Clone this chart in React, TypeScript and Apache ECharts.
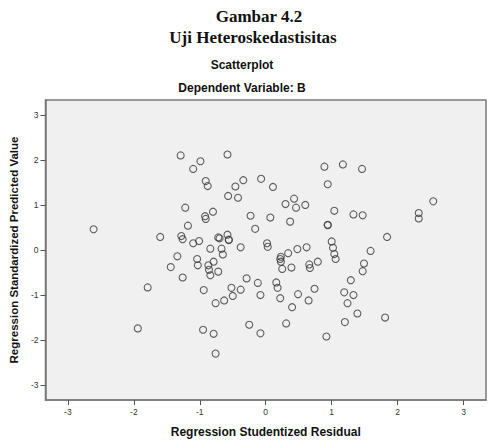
import React, { useEffect, useRef } from "react";
import * as echarts from "echarts";

const titleMain = "Gambar 4.2";
const titleSub = "Uji Heteroskedastisitas";
const chartTitle = "Scatterplot";
const chartSubtitle = "Dependent Variable: B";
const xAxisName = "Regression Studentized Residual";
const yAxisName = "Regression Standardized Predicted Value";
const tickValues = [-3, -2, -1, 0, 1, 2, 3];

// Regression Studentized Residual (x)
const residual = [
  -2.61, -1.6, -1.29, -0.99, -1.1, -0.58, -0.91, -0.88, -0.34, -0.46,
  -0.07, 0.11, -0.57, -0.42, 0.89, 0.94, -1.22, -0.8, -0.92, -0.91,
  -0.23, 0.07, 0.3, 0.43, 0.46, 0.6, 0.37, -1.18, -0.16, 0.94,
  0.94, -1.28, -1.26, -1.1, -1.01, -0.72, -0.7, -0.58, -0.56, -0.56,
  -0.84, -0.67, -0.38, 0.02, 0.03, 0.34, 0.48, 0.62, 0.23, 0.22,
  0.23, 1.0, 1.02, 1.04, 1.06, -1.34, -0.65, 1.17, 1.46, 2.54,
  1.04, 1.33, 1.47, 2.32, 2.32, 1.84, 1.59, -1.44, -1.26, -1.04,
  -1.03, -0.87, -0.79, -0.86, -0.84, -0.72, -0.94, -0.76, -0.63, -0.52,
  -0.5, -0.38, -0.29, -0.12, -0.08, -0.95, -0.79, -0.76, -0.25, -0.08,
  0.25, 0.39, 0.66, 0.67, 0.79, 0.16, 0.18, 0.22, 0.49, 0.4,
  0.65, 0.74, 0.31, 0.92, 1.49, 1.47, 1.29, 1.19, 1.33, 1.24,
  1.39, 1.2, 1.81, -1.79, -1.94,
];

// Regression Standardized Predicted Value (y)
const predicted = [
  0.46, 0.29, 2.1, 1.97, 1.8, 2.12, 1.53, 1.42, 1.55, 1.41,
  1.58, 1.4, 1.2, 1.16, 1.85, 1.46, 0.94, 0.85, 0.75, 0.69,
  0.76, 0.72, 1.02, 1.14, 0.94, 1.0, 0.63, 0.54, 0.47, 0.56,
  0.55, 0.31, 0.24, 0.15, 0.2, 0.28, 0.26, 0.34, 0.23, 0.22,
  0.03, 0.03, 0.06, 0.15, 0.07, -0.07, 0.02, 0.06, -0.15, -0.2,
  -0.26, 0.19, 0.05, -0.09, -0.2, -0.14, -0.1, 1.9, 1.8, 1.08,
  0.87, 0.79, 0.77, 0.82, 0.7, 0.29, -0.02, -0.38, -0.61, -0.2,
  -0.34, -0.34, -0.26, -0.44, -0.56, -0.48, -0.89, -1.18, -1.12, -0.84,
  -1.02, -0.88, -0.63, -0.73, -1.0, -1.77, -1.86, -2.3, -1.66, -1.85,
  -0.42, -0.39, -0.32, -0.4, -0.26, -0.72, -0.84, -1.07, -0.98, -1.27,
  -1.12, -0.86, -1.63, -1.92, -0.3, -0.47, -0.67, -0.94, -1.0, -1.18,
  -1.41, -1.6, -1.5, -0.83, -1.74,
];

export default function App() {
  const ref = useRef<HTMLDivElement>(null);

  useEffect(() => {
    if (!ref.current) return;
    const chart = echarts.init(ref.current, undefined, { renderer: "svg" });
    const points = residual.map((x, i) => [x, predicted[i]]);
    const axisColor = "#7a7a7a";
    chart.setOption({
      animation: false,
      backgroundColor: "#ffffff",
      title: [
        {
          text: titleMain,
          left: 259,
          top: 8,
          textAlign: "center",
          padding: 0,
          textStyle: { fontFamily: "Liberation Serif", fontWeight: "bold", fontSize: 17, color: "#111" },
        },
        {
          text: titleSub,
          left: 253,
          top: 29,
          textAlign: "center",
          padding: 0,
          textStyle: { fontFamily: "Liberation Serif", fontWeight: "bold", fontSize: 17, color: "#111" },
        },
        {
          text: chartTitle,
          left: 242,
          top: 59,
          textAlign: "center",
          padding: 0,
          textStyle: { fontFamily: "Liberation Sans", fontWeight: "bold", fontSize: 12, color: "#111" },
        },
        {
          text: chartSubtitle,
          left: 242,
          top: 82,
          textAlign: "center",
          padding: 0,
          textStyle: { fontFamily: "Liberation Sans", fontWeight: "bold", fontSize: 12, color: "#111" },
        },
      ],
      grid: {
        left: 37,
        right: 6,
        top: 100,
        bottom: 44,
        show: true,
        backgroundColor: "#f0f0f0",
        borderColor: axisColor,
        borderWidth: 1.5,
      },
      xAxis: {
        type: "value",
        min: -3.34,
        max: 3.34,
        name: xAxisName,
        nameLocation: "middle",
        nameGap: 26,
        nameTextStyle: { fontFamily: "Liberation Sans", fontWeight: "bold", fontSize: 12, color: "#111" },
        splitLine: { show: false },
        axisLine: { show: true, onZero: false, lineStyle: { color: axisColor, width: 1.5 } },
        axisTick: { show: true, length: 5, customValues: tickValues, lineStyle: { color: "#555" } },
        axisLabel: {
          customValues: tickValues,
          margin: 7,
          fontFamily: "Liberation Sans",
          fontSize: 8.5,
          color: "#333",
        },
      },
      yAxis: {
        type: "value",
        min: -3.33,
        max: 3.33,
        name: yAxisName,
        nameLocation: "middle",
        nameGap: 22,
        nameTextStyle: { fontFamily: "Liberation Sans", fontWeight: "bold", fontSize: 11.5, color: "#111" },
        splitLine: { show: false },
        axisLine: { show: true, onZero: false, lineStyle: { color: axisColor, width: 1.5 } },
        axisTick: { show: true, length: 5, customValues: tickValues, lineStyle: { color: "#555" } },
        axisLabel: {
          customValues: tickValues,
          margin: 7,
          fontFamily: "Liberation Sans",
          fontSize: 8.5,
          color: "#333",
        },
      },
      series: [
        {
          type: "scatter",
          data: points,
          symbol: "circle",
          symbolSize: 7,
          itemStyle: { color: "transparent", borderColor: "#3a3a3a", borderWidth: 1.1 },
        },
      ],
    });
    return () => chart.dispose();
  }, []);

  return (
    <div
      ref={ref}
      style={{ position: "fixed", left: 0, top: 0, width: 492, height: 444, background: "#fff" }}
    />
  );
}
